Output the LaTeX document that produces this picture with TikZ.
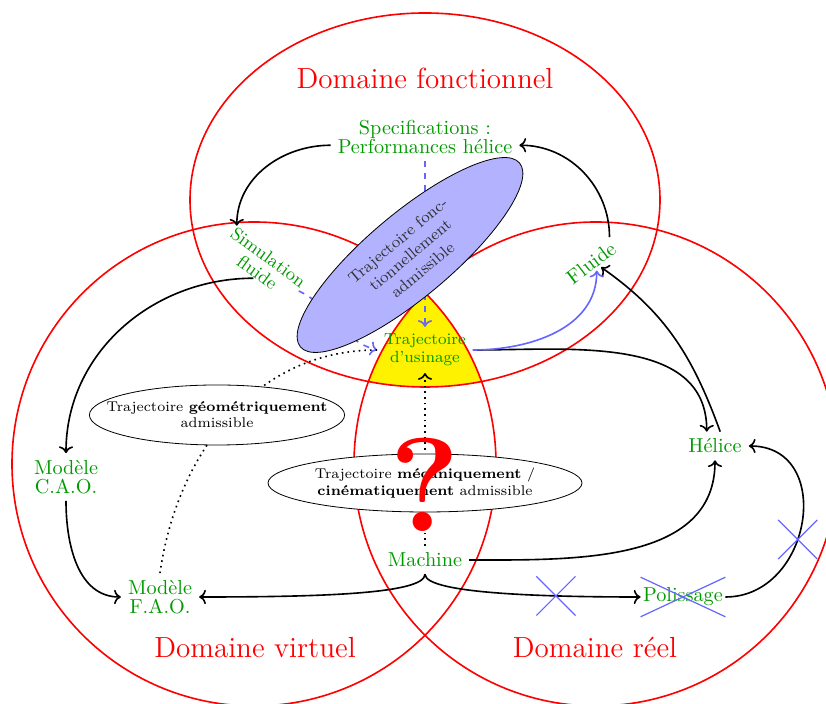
\documentclass[tikz,border=0pt]{standalone}
\usepackage{tikz}
\usetikzlibrary{shapes.geometric, shapes.misc, arrows.meta, positioning, calc}
\usepackage{xcolor}

\colorlet{vert}{green!60!black}
\colorlet{bleu}{blue!60}

\begin{document}
\begin{tikzpicture}[x=0.01739cm, y=0.01739cm,
    lbl/.style={text=vert, align=center, font=\linespread{0.78}\selectfont},
    domaine/.style={text=red, font=\Large},
    zone/.style={draw=red, thick},
    traj/.style={ellipse, draw, fill=white, align=center, font=\scriptsize, inner sep=0pt},
    arrow/.style={->, thick},
    lien/.style={->, thick, bleu},
    croix/.style={cross out, draw=bleu, semithick, minimum size=0.66cm}
]
    \useasboundingbox (0,0) rectangle (826,704);

    % les trois domaines
    \begin{scope}
        \clip (254,240) circle [radius=242];
        \clip (596,240) circle [radius=242];
        \fill[yellow] (425,504) ellipse [x radius=235, y radius=187];
    \end{scope}
    \draw[zone] (425,504) ellipse [x radius=235, y radius=187];
    \draw[zone] (254,240) circle [radius=242];
    \draw[zone] (596,240) circle [radius=242];

    \node[domaine] (dfonc) at (425,626) {Domaine fonctionnel};
    \node[domaine] (dvirt) at (255,56) {Domaine virtuel};
    \node[domaine] (dreel) at (595,56) {Domaine réel};

    % les etapes
    \node[lbl] (spec) at (425,567) {Specifications :\\Performances hélice};
    \node[lbl, font=\small\linespread{0.85}\selectfont, rotate=-36, inner sep=0pt] (simu) at (263,439) {Simulation\\fluide};
    \node[lbl, font=\normalsize, rotate=37, inner sep=1pt] (fluide) at (591,441) {Fluide};
    \node[lbl, font=\footnotesize\linespread{0.92}\selectfont] (usinage) at (425,354) {Trajectoire\\d'usinage};
    \node[lbl] (cao) at (66,227) {Modèle\\C.A.O.};
    \node[lbl] (fao) at (160,107) {Modèle\\F.A.O.};
    \node[lbl] (machine) at (425,144) {Machine};
    \node[lbl] (helice) at (715,258) {Hélice};
    \node[lbl, cross out, draw=bleu, semithick, inner xsep=1pt, inner ysep=5pt] (polissage) at (683,107) {Polissage};

    \draw[lien, dashed] (spec.south) -- (usinage.north);
    \draw[lien, dashed] (simu.east) to[out=-25, in=165] (usinage.west);
    \draw[thick, dotted, ->] (machine.north) -- (usinage.south);
    \draw[thick, dotted] (fao.north) to[out=82, in=180] (usinage.west);

    % les trajectoires admissibles
    \node[ellipse, draw, fill=blue!30, rotate=40, minimum width=141.6pt, minimum height=41.6pt,
          inner sep=0pt, align=center, font=\footnotesize, text=black!80] (fonct) at (410,449)
        {Trajectoire fonc-\\tionnellement\\admissible};
    \node[traj, inner xsep=-10pt, minimum width=110pt, minimum height=29.7pt] (geo) at (217,289)
        {Trajectoire \textbf{géométriquement}\\admissible};
    \node[traj, minimum width=155.4pt, minimum height=28.7pt] (meca) at (425,221)
        {Trajectoire \textbf{mécaniquement} /\\\textbf{cinématiquement} admissible};
    \node[text=red, font=\fontsize{66}{66}\selectfont\bfseries, inner sep=0pt] (question) at (425,219) {?};

    \draw[arrow] (spec.185) to[out=180, in=90] (simu.north west);
    \draw[arrow] (fluide.north east) to[out=90, in=0] (spec.-5);
    \draw[arrow] (simu.south) to[out=180, in=90] (cao.north);
    \draw[arrow] (cao.south) to[out=-90, in=180] (fao.west);
    \draw[arrow] (machine.south) to[out=-90, in=0, out distance=0.35cm, in distance=2cm] (fao.east);
    \draw[arrow] (machine.south) to[out=-90, in=180, out distance=0.35cm, in distance=1.5cm]
        node[croix, pos=0.7] {} (polissage.west);
    \draw[arrow] (machine.east) to[out=0, in=-90] (helice.south);
    \draw[arrow] (usinage.east) to[out=0, in=90] (helice.120);
    \draw[arrow] (helice.70) to[out=110, in=-35] (fluide.-60);
    \draw[arrow] (polissage.east) to[out=0, in=0, looseness=1.45] node[croix, pos=0.42] {} (helice.east);
    \draw[lien] (usinage.east) to[out=0, in=-90] (fluide.south);
\end{tikzpicture}
\end{document}
